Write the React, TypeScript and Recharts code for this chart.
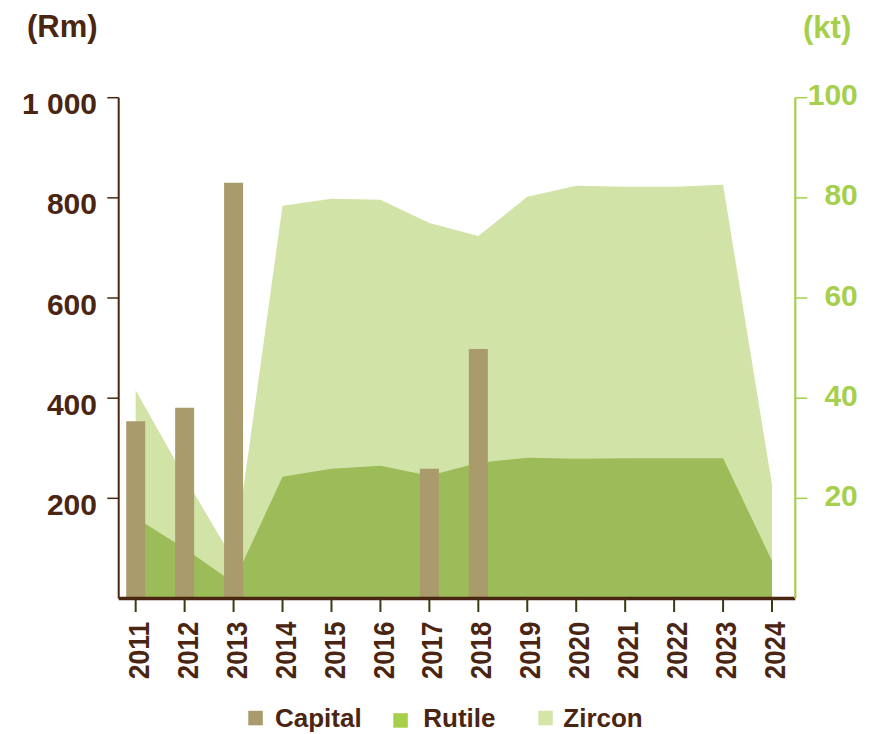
import React from 'react';
import { ComposedChart, Area, Bar, XAxis, YAxis } from 'recharts';

const years = ['2011', '2012', '2013', '2014', '2015', '2016', '2017', '2018', '2019', '2020', '2021', '2022', '2023', '2024'];
const capital = [354, 381, 830, null, null, null, 259, 498, null, null, null, null, null, null];
const rutile = [16.1, 10.0, 3.2, 24.3, 25.9, 26.5, 24.5, 27.1, 28.1, 27.9, 28.0, 28.0, 28.0, 7.5];
const zircon = [41.6, 24.2, 7.7, 78.4, 79.8, 79.6, 75.0, 72.4, 80.2, 82.4, 82.2, 82.2, 82.6, 22.7];
const leftTicks = [200, 400, 600, 800, 1000];
const rightTicks = [20, 40, 60, 80, 100];
const legendItems = ['Capital', 'Rutile', 'Zircon'];

const data = years.map((y, i) => ({ year: y, capital: capital[i], rutile: rutile[i], zircon: zircon[i] }));

const FONT = '"Liberation Sans", Arial, Helvetica, sans-serif';
const BROWN = '#4a2511';
const GREEN = '#a5cf4c';
const BAR = '#a99b6c';
const RUTILE = '#9cbb59';
const ZIRCON = '#d1e3a6';

const fmtThousands = (v: number) => String(v).replace(/\B(?=(\d{3})+(?!\d))/g, ' ');

const XTick = (props: any) => {
  const { x, y, payload } = props;
  const cx = x + 3.1;
  const ty = y + 9.7;
  return (
    <text
      x={cx}
      y={ty}
      transform={`rotate(-90, ${cx}, ${ty})`}
      textAnchor="end"
      dominantBaseline="central"
      fontFamily={FONT}
      fontWeight="bold"
      fontSize={29}
      textLength={57.5}
      lengthAdjust="spacingAndGlyphs"
      fill={BROWN}
    >
      {payload.value}
    </text>
  );
};

const LeftTick = (props: any) => {
  const { x, y, payload } = props;
  return (
    <text x={x} y={y + 6} textAnchor="end" dominantBaseline="central" fontFamily={FONT} fontWeight="bold" fontSize={30} fill={BROWN}>
      {fmtThousands(payload.value)}
    </text>
  );
};

const RightTick = (props: any) => {
  const { x, y, payload } = props;
  return (
    <text x={x + 50.5} y={y - 3} textAnchor="end" dominantBaseline="central" fontFamily={FONT} fontWeight="bold" fontSize={30} fill={GREEN}>
      {payload.value}
    </text>
  );
};

const legendColors: Record<string, string> = { Capital: BAR, Rutile: '#a6cf4a', Zircon: '#d3e6a8' };
const legendX = [248.3, 393.3, 538.3];
const legendTextGap = [26.7, 30, 25];
const legendSqY = [710.8, 713.2, 710.8];

export default function App() {
  return (
    <div style={{ position: 'absolute', left: 0, top: 0, width: 875, height: 734, background: '#fff' }}>
      <ComposedChart width={875} height={734} data={data} margin={{ top: 97.7, right: 0, bottom: 0, left: 0 }}>
        <XAxis
          dataKey="year"
          height={135.5}
          padding={{ left: -7.5, right: -1.2 }}
          interval={0}
          axisLine={{ stroke: BROWN, strokeWidth: 3.5 }}
          tickLine={{ stroke: '#3b3a12', strokeWidth: 2 }}
          tickSize={13.5}
          tickMargin={0}
          tick={<XTick />}
        />
        <YAxis
          yAxisId="left"
          width={118.7}
          domain={[0, 1000]}
          ticks={leftTicks}
          interval={0}
          axisLine={{ stroke: BROWN, strokeWidth: 2 }}
          tickLine={{ stroke: BROWN, strokeWidth: 1.5 }}
          tickSize={11.4}
          tickMargin={10.3}
          tick={<LeftTick />}
        />
        <YAxis
          yAxisId="right"
          orientation="right"
          width={79.7}
          domain={[0, 100]}
          ticks={rightTicks}
          interval={0}
          axisLine={{ stroke: GREEN, strokeWidth: 2.2 }}
          tickLine={{ stroke: GREEN, strokeWidth: 1.5 }}
          tickSize={12}
          tickMargin={0}
          tick={<RightTick />}
        />
        <Area yAxisId="right" type="linear" dataKey="zircon" fill={ZIRCON} fillOpacity={1} stroke="none" isAnimationActive={false} />
        <Area yAxisId="right" type="linear" dataKey="rutile" fill={RUTILE} fillOpacity={1} stroke="none" isAnimationActive={false} />
        <Bar yAxisId="left" dataKey="capital" barSize={19} fill={BAR} isAnimationActive={false} />
      </ComposedChart>
      <svg width={875} height={734} style={{ position: 'absolute', left: 0, top: 0, pointerEvents: 'none' }}>
        <text x={27} y={37} fontFamily={FONT} fontWeight="bold" fontSize={31} fill={BROWN}>(Rm)</text>
        <text x={803} y={37.5} fontFamily={FONT} fontWeight="bold" fontSize={31} fill={GREEN}>(kt)</text>
        {legendItems.map((name, i) => (
          <g key={name}>
            <rect x={legendX[i]} y={legendSqY[i]} width={14.5} height={14.5} fill={legendColors[name]} />
            <text x={legendX[i] + legendTextGap[i]} y={726.7} fontFamily={FONT} fontWeight="bold" fontSize={26} fill={BROWN}>
              {name}
            </text>
          </g>
        ))}
      </svg>
    </div>
  );
}
